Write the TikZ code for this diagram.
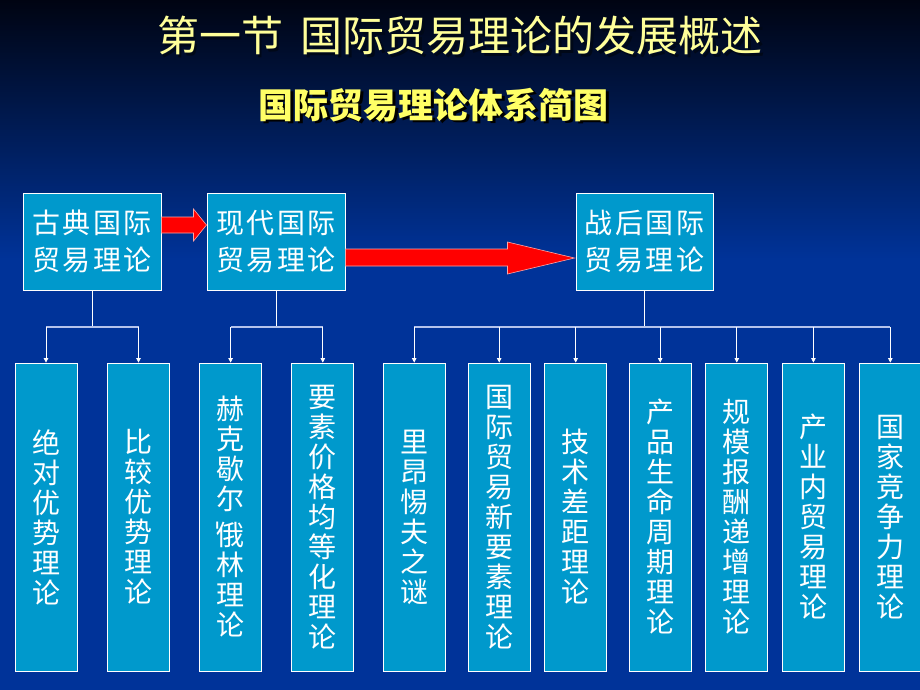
\documentclass[tikz,border=0pt]{standalone}
\usepackage{fontspec}
\newfontfamily\cjk{Noto Sans CJK SC}
\newfontfamily\cjksp{Noto Sans CJK SC}[LetterSpace=9]
\usetikzlibrary{arrows.meta,calc}
\definecolor{bgtop}{HTML}{000412}
\definecolor{bgbot}{HTML}{003399}
\definecolor{boxfill}{HTML}{0099CC}
\definecolor{ttl}{HTML}{FFFF99}
\definecolor{subt}{HTML}{FFFF66}
\definecolor{busline}{HTML}{B4C3EC}
\definecolor{shadowc}{HTML}{000818}
\newcommand{\shadowtext}[3]{\rlap{\kern#3\raisebox{-#3}{\color{#1}#2}}#2}
\begin{document}
\begin{tikzpicture}[x=1pt,y=-1pt,
  topbox/.style={draw=white, line width=1pt, fill=boxfill, minimum width=138pt, minimum height=97pt,
    inner sep=0pt, text=white, align=center, font=\cjksp\fontsize{28}{37}\selectfont},
  vbox/.style={draw=white, line width=0.8pt, fill=boxfill, minimum width=62pt, minimum height=308pt,
    inner sep=0pt, text=white, align=center, font=\cjk\fontsize{28}{30}\selectfont},
  conn/.style={white, line width=0.8pt},
  connarrow/.style={conn, -{Triangle[width=4.5pt,length=4.5pt]}},
  bus/.style={busline, line width=1.3pt},
  bigarrow/.style={fill=red, draw=red!35!white, line width=0.6pt, line join=miter},
  titletext/.style={font=\cjk\fontsize{42}{46}\selectfont, inner sep=0pt},
  subtext/.style={font=\cjk\bfseries\fontsize{35}{40}\selectfont, inner sep=0pt},
]
\useasboundingbox (0,0) rectangle (920,690);
\clip (0,0) rectangle (920,690);
% background
\fill[bgbot] (0,0) rectangle (920,690);
\shade[top color=bgtop, bottom color=bgbot] (0,0) rectangle (920,260);

% titles
\node[titletext, text=ttl] (title) at (460,37) {\shadowtext{shadowc}{第一节\hspace{18pt}国际贸易理论的发展概述}{2.5pt}};
\node[subtext, text=subt] (subtitle) at (433.5,106) {\shadowtext{black}{国际贸易理论体系简图}{2.5pt}};

% top boxes
\node[topbox] (b1) at (92,241.5) {古典国际\\贸易理论};
\node[topbox] (b2) at (276,241.5) {现代国际\\贸易理论};
\node[topbox, minimum width=137pt] (b3) at (644.5,241.5) {战后国际\\贸易理论};

% big red arrows
\draw[bigarrow] ($(b1.east)+(0,-24.5)$) -- ($(b2.west)+(-13,-24.5)$) -- ($(b2.west)+(-13,-32.5)$)
  -- ($(b2.west)+(0,-16.5)$) -- ($(b2.west)+(-13,-0.5)$) -- ($(b2.west)+(-13,-8.5)$)
  -- ($(b1.east)+(0,-8.5)$) -- cycle;
\draw[bigarrow] ($(b2.east)+(0,7.5)$) -- ($(b3.west)+(-68,7.5)$) -- ($(b3.west)+(-68,0.5)$)
  -- ($(b3.west)+(-1,16.5)$) -- ($(b3.west)+(-68,32.5)$) -- ($(b3.west)+(-68,24.5)$)
  -- ($(b2.east)+(0,24.5)$) -- cycle;

% bottom boxes
\node[vbox] (c1) at (46,517) {绝\\对\\优\\势\\理\\论};
\node[vbox] (c2) at (138.5,517) {比\\较\\优\\势\\理\\论};
\node[vbox] (c3) at (230.6,517) {赫\\克\\歇\\尔\\[6pt]\llap{\raisebox{0.55em}{\rotatebox{90}{-}}\kern-0.3em}俄\\林\\理\\论};
\node[vbox] (c4) at (322.8,517) {要\\素\\价\\格\\均\\等\\化\\理\\论};
\node[vbox] (c5) at (414.2,517) {里\\昂\\惕\\夫\\之\\谜};
\node[vbox] (c6) at (499.2,517) {国\\际\\贸\\易\\新\\要\\素\\理\\论};
\node[vbox] (c7) at (575.7,517) {技\\术\\差\\距\\理\\论};
\node[vbox] (c8) at (660.2,517) {产\\品\\生\\命\\周\\期\\理\\论};
\node[vbox] (c9) at (736.8,517) {规\\模\\报\\酬\\递\\增\\理\\论};
\node[vbox] (c10) at (813.4,517) {产\\业\\内\\贸\\易\\理\\论};
\node[vbox] (c11) at (890.3,517) {国\\家\\竞\\争\\力\\理\\论};

% junctions
\coordinate (j1) at (92,327);
\coordinate (j2) at (276,327);
\coordinate (j3) at (644.5,327);

% connectors
\draw[conn] (b1.south) -- (j1);
\draw[conn] (b2.south) -- (j2);
\draw[conn] (b3.south) -- (j3);
\draw[bus] (c1.north |- j1) -- (c2.north |- j1);
\draw[bus] (c3.north |- j2) -- (c4.north |- j2);
\draw[bus] (c5.north |- j3) -- (c11.north |- j3);
\foreach \c in {c1,c2}{\draw[connarrow] (\c.north |- j1) -- (\c.north);}
\foreach \c in {c3,c4}{\draw[connarrow] (\c.north |- j2) -- (\c.north);}
\foreach \c in {c5,c6,c7,c8,c9,c10,c11}{\draw[connarrow] (\c.north |- j3) -- (\c.north);}
\end{tikzpicture}
\end{document}
